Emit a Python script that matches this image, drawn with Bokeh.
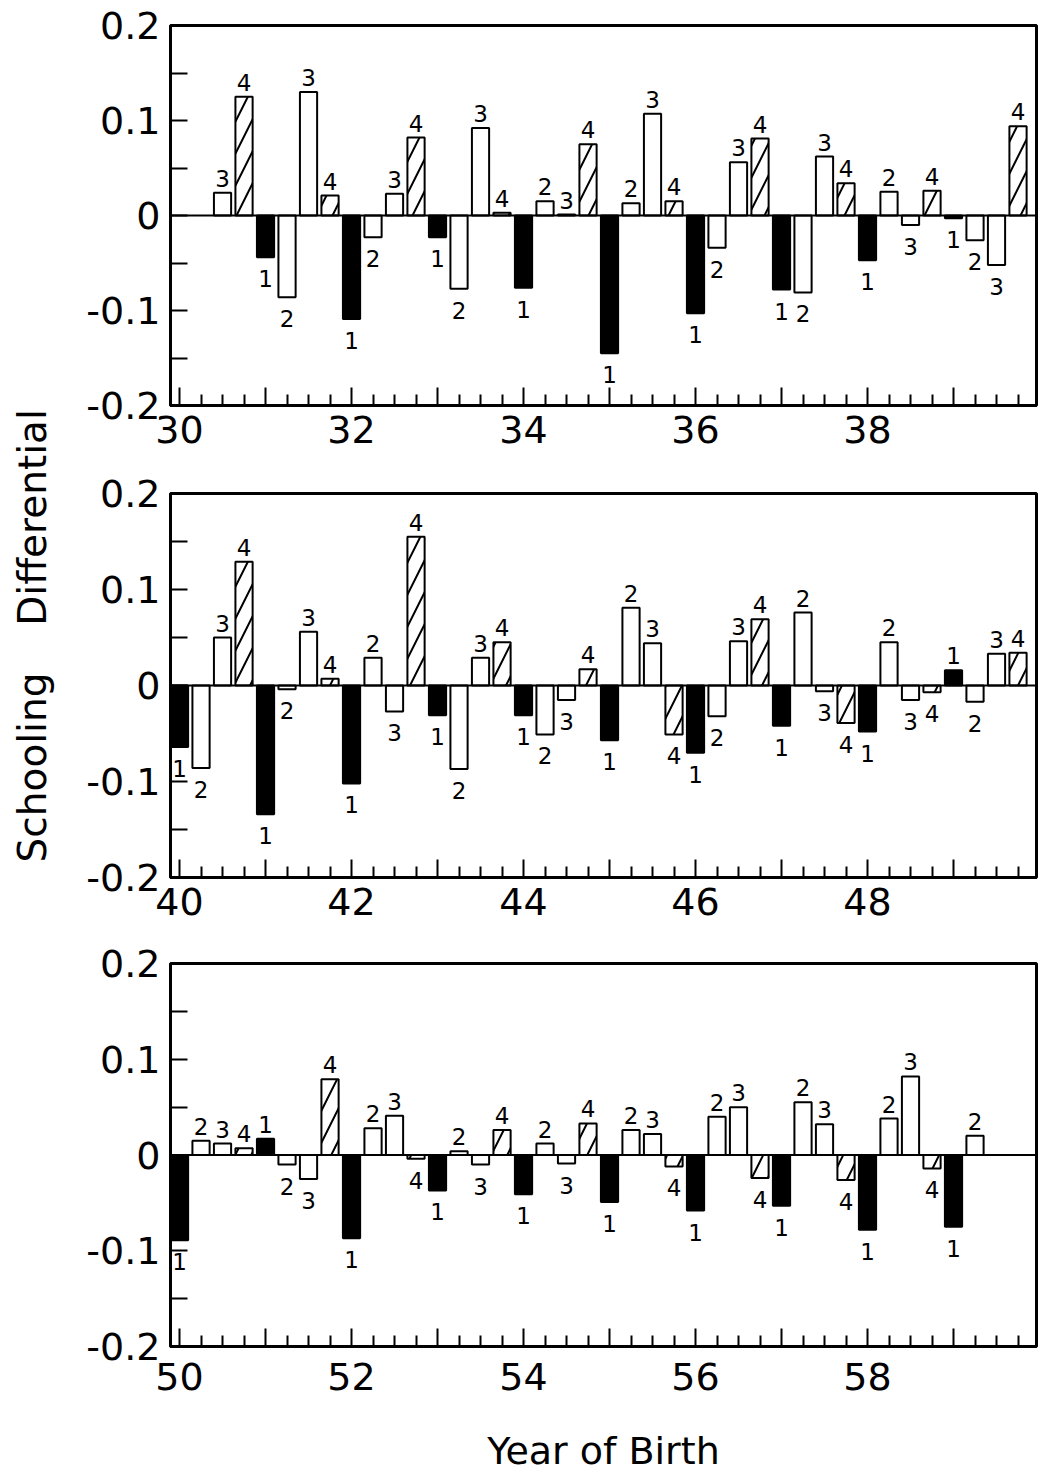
import math
from bokeh.plotting import figure
from bokeh.models import ColumnDataSource, FixedTicker, Range1d, Span, Label, CustomJSTickFormatter
from bokeh.layouts import row, column
from bokeh.embed import file_html
from bokeh.resources import INLINE
from bokeh.core.properties import value

nan = float("nan")

# ---------------- data (schooling differential by quarter of birth) ----------------
decade_starts = [30, 40, 50]
quarters = [1, 2, 3, 4]

q1_1930s = [nan, -0.044, -0.109, -0.023, -0.076, -0.145, -0.103, -0.078, -0.047, -0.003]
q2_1930s = [nan, -0.086, -0.023, -0.077, 0.015, 0.013, -0.034, -0.081, 0.025, -0.026]
q3_1930s = [0.024, 0.130, 0.023, 0.092, 0.001, 0.107, 0.056, 0.062, -0.010, -0.052]
q4_1930s = [0.125, 0.021, 0.082, 0.003, 0.075, 0.015, 0.081, 0.034, 0.026, 0.094]

q1_1940s = [-0.064, -0.134, -0.102, -0.031, -0.031, -0.057, -0.070, -0.042, -0.048, 0.016]
q2_1940s = [-0.086, -0.004, 0.029, -0.087, -0.051, 0.081, -0.032, 0.076, 0.045, -0.017]
q3_1940s = [0.050, 0.056, -0.027, 0.029, -0.015, 0.044, 0.046, -0.006, -0.015, 0.033]
q4_1940s = [0.129, 0.007, 0.155, 0.045, 0.017, -0.051, 0.069, -0.039, -0.007, 0.034]

q1_1950s = [-0.089, 0.017, -0.087, -0.037, -0.041, -0.049, -0.058, -0.053, -0.078, -0.075]
q2_1950s = [0.015, -0.010, 0.028, 0.004, 0.012, 0.026, 0.040, 0.055, 0.038, 0.020]
q3_1950s = [0.012, -0.025, 0.041, -0.010, -0.009, 0.022, 0.050, 0.032, 0.082, nan]
q4_1950s = [0.007, 0.079, -0.004, 0.026, 0.033, -0.012, -0.024, -0.026, -0.014, nan]

y_tick_values = [-0.2, -0.1, 0, 0.1, 0.2]
y_minor_values = [-0.15, -0.05, 0.05, 0.15]
y_axis_title = ["Schooling", "Differential"]
x_axis_title = "Year of Birth"

panels_data = [
    [q1_1930s, q2_1930s, q3_1930s, q4_1930s],
    [q1_1940s, q2_1940s, q3_1940s, q4_1940s],
    [q1_1950s, q2_1950s, q3_1950s, q4_1950s],
]

# ---------------- styling ----------------
FONT = "DejaVu Sans"
FILL = {1: "black", 2: "white", 3: "white", 4: "white"}
LABEL_W = 63
BORDER_L = 107
BORDER_R = 10
FRAME_W = 866
PANEL_W = BORDER_L + FRAME_W + BORDER_R
FRAME_H = [380, 384, 384]
BORDER_T = [25, 28, 26]
BORDER_B = [60, 60, 128]
XLAB_STANDOFF = [10, 10, 16]
TOTAL_H = sum(FRAME_H) + sum(BORDER_T) + sum(BORDER_B)

y_fmt = CustomJSTickFormatter(code="""
    if (Math.abs(tick) < 1e-9) { return "0"; }
    return tick.toFixed(1);
""")
x_fmt = CustomJSTickFormatter(code="""
    const r = Math.round(tick);
    return (r % 2 == 0) ? String(r) : "";
""")


def make_panel(i, start, qvals):
    h = BORDER_T[i] + FRAME_H[i] + BORDER_B[i]
    p = figure(width=PANEL_W, height=h,
               x_range=Range1d(start - 0.105, start + 9.965),
               y_range=Range1d(-0.2, 0.2),
               output_backend="svg", toolbar_location=None,
               min_border_left=BORDER_L, min_border_right=BORDER_R,
               min_border_top=BORDER_T[i], min_border_bottom=BORDER_B[i])
    p.grid.visible = False
    p.outline_line_color = "black"
    p.outline_line_width = 3
    p.background_fill_color = "white"
    p.border_fill_color = "white"

    years = list(range(start, start + 10))
    for q, vals in zip(quarters, qvals):
        xs, tops = [], []
        for yr, v in zip(years, vals):
            if not math.isnan(v):
                xs.append(yr + (q - 1) / 4.0)
                tops.append(v)
        src = ColumnDataSource(dict(x=xs, top=tops))
        kw = {}
        if q == 4:
            kw = dict(hatch_pattern="/", hatch_color="black", hatch_weight=2, hatch_scale=32)
        p.vbar(x="x", top="top", bottom=0, width=0.2, source=src,
               fill_color=FILL[q], line_color="black", line_width=2, **kw)

        pos = [(x, t) for x, t in zip(xs, tops) if t >= 0]
        neg = [(x, t) for x, t in zip(xs, tops) if t < 0]
        if pos:
            ps = ColumnDataSource(dict(x=[a for a, _ in pos], y=[b for _, b in pos], t=[str(q)] * len(pos)))
            p.text(x="x", y="y", text="t", source=ps, text_align="center",
                   text_baseline="bottom", y_offset=-6,
                   text_font=value(FONT), text_font_size="23px", text_color="black")
        if neg:
            ns = ColumnDataSource(dict(x=[a for a, _ in neg], y=[b for _, b in neg], t=[str(q)] * len(neg)))
            p.text(x="x", y="y", text="t", source=ns, text_align="center",
                   text_baseline="top", y_offset=13,
                   text_font=value(FONT), text_font_size="23px", text_color="black")

    p.add_layout(Span(location=0, dimension="width", line_color="black", line_width=2))

    # axes
    p.xaxis.ticker = FixedTicker(ticks=years,
                                 minor_ticks=[yr + k / 4.0 for yr in years for k in (1, 2, 3)])
    p.xaxis.formatter = x_fmt
    p.xaxis.major_tick_in = 18
    p.xaxis.major_tick_out = 0
    p.xaxis.minor_tick_in = 11
    p.xaxis.minor_tick_out = 0
    p.xaxis.major_label_standoff = XLAB_STANDOFF[i]

    p.yaxis.ticker = FixedTicker(ticks=y_tick_values, minor_ticks=y_minor_values)
    p.yaxis.formatter = y_fmt
    p.yaxis.major_tick_in = 17
    p.yaxis.major_tick_out = 0
    p.yaxis.minor_tick_in = 17
    p.yaxis.minor_tick_out = 0
    p.yaxis.major_label_standoff = 10

    for ax in (p.xaxis, p.yaxis):
        ax.axis_line_width = 3
        ax.axis_line_color = "black"
        ax.major_tick_line_width = 2
        ax.minor_tick_line_width = 2
        ax.major_tick_line_color = "black"
        ax.minor_tick_line_color = "black"
        ax.major_label_text_font = FONT
        ax.major_label_text_font_size = "38px"
        ax.major_label_text_color = "black"

    if i == 2:
        p.xaxis.axis_label = x_axis_title
        p.xaxis.axis_label_text_font = FONT
        p.xaxis.axis_label_text_font_size = "38px"
        p.xaxis.axis_label_text_font_style = "normal"
        p.xaxis.axis_label_text_color = "black"
        p.xaxis.axis_label_standoff = 36
    return p


panels = [make_panel(i, s, qv) for i, (s, qv) in enumerate(zip(decade_starts, panels_data))]

lab = figure(width=LABEL_W, height=TOTAL_H,
             x_range=Range1d(0, LABEL_W), y_range=Range1d(TOTAL_H, 0),
             output_backend="svg", toolbar_location=None, min_border=0,
             x_axis_type=None, y_axis_type=None)
lab.outline_line_color = None
lab.grid.visible = False
lab.add_layout(Label(x=32, y=767, text=y_axis_title[0], angle=math.pi / 2,
                     text_align="center", text_baseline="middle",
                     text_font=FONT, text_font_size="39px", text_color="black"))
lab.add_layout(Label(x=32, y=517, text=y_axis_title[1], angle=math.pi / 2,
                     text_align="center", text_baseline="middle",
                     text_font=FONT, text_font_size="39px", text_color="black"))

layout = row(lab, column(*panels))

open("out.html", "w").write(file_html(layout, INLINE))
